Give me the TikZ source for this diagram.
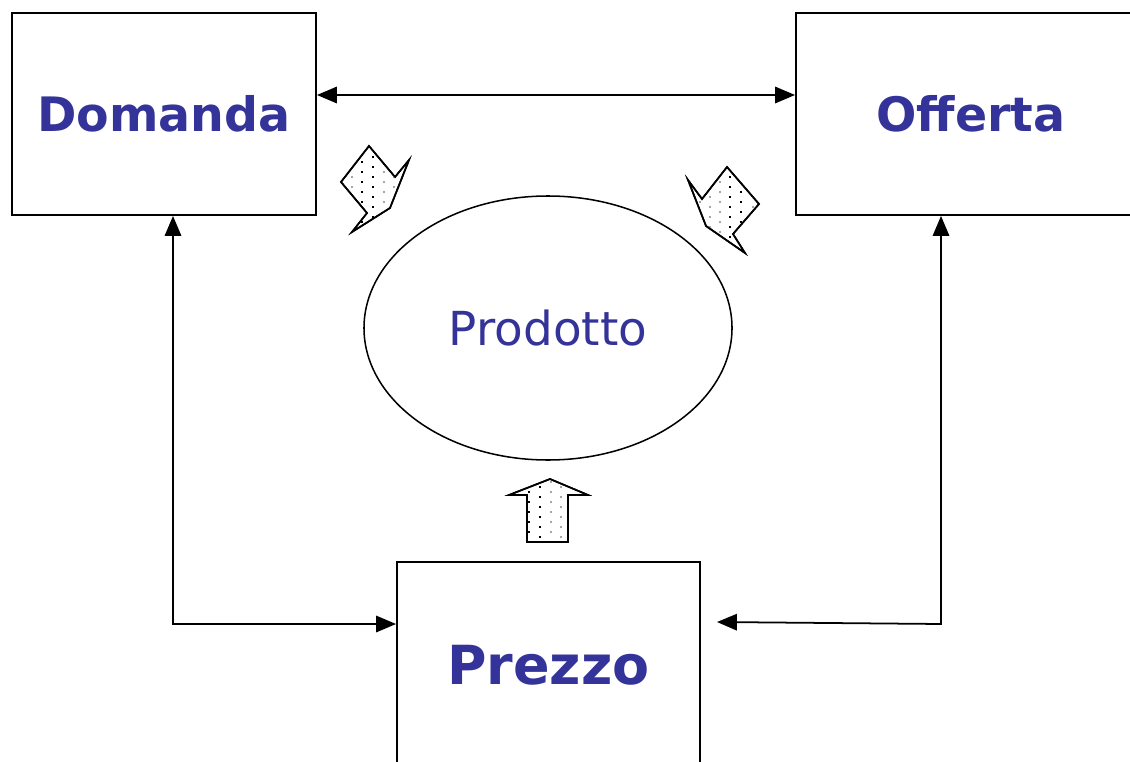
\documentclass[tikz,border=0pt]{standalone}
\usepackage{fontspec}
\setmainfont{DejaVu Sans}
\usetikzlibrary{arrows.meta,shapes.geometric}
\definecolor{txtblue}{RGB}{51,51,153}
\begin{document}
\begin{tikzpicture}[x=0.03cm,y=-0.03cm,
  boxnode/.style={draw,line width=1.6pt,inner sep=0pt,text=txtblue,
    font=\bfseries\fontsize{40.5}{48}\selectfont},
  ellnode/.style={draw,ellipse,line width=1.3pt,inner sep=0pt,text=txtblue,
    font=\fontsize{40}{48}\selectfont},
  conn/.style={line width=1.5pt,
    {Triangle[length=17pt,width=14pt]}-{Triangle[length=17pt,width=14pt]}},
  blockarrow/.style={line width=1.4pt,fill=white,line join=miter}]
\useasboundingbox (0,0) rectangle (1130,761);
\clip (0,0) rectangle (1130,761);

% boxes
\node[boxnode,minimum width=9.12cm,minimum height=6.06cm] (dom) at (164,114) {Domanda};
\node[boxnode,minimum width=10.5cm,minimum height=6.06cm] (off) at (971,114) {Offerta};
\node[boxnode,minimum width=9.09cm,minimum height=6.18cm,
      font=\bfseries\fontsize{46}{52}\selectfont] (pre) at (548.5,665) {Prezzo};
\node[ellnode,minimum width=11.04cm,minimum height=7.92cm] (prod) at (548,328) {Prodotto};

% connectors
\coordinate (y95) at (0,95);
\coordinate (c1) at (173,624);
\coordinate (c2) at (941,624);
\coordinate (e2) at (717,622);
\draw[conn] (dom.east |- y95) -- (off.west |- y95);
\draw[conn] (c1 |- dom.south) -- (c1) -- (c1 -| pre.west);
\draw[conn] (c2 |- off.south) -- (c2) -- (e2);

% block arrow 1 (near Domanda)
\draw[blockarrow] (369,146) -- (341,182) -- (367,213) -- (352,232) -- (390,208)
   -- (409,160) -- (395,177) -- cycle;
\begin{scope}
  \clip (369,146) -- (341,182) -- (367,213) -- (352,232) -- (390,208)
   -- (409,160) -- (395,177) -- cycle;
  \foreach \x/\c/\o in {352/gray!70/5,362/black/0,373/black/5,384/gray!70/0,394/gray!70/5}
    \foreach \y in {142,152,...,232}
      \fill[\c] (\x,\y+\o) ++(-1.25pt,-1.25pt) rectangle ++(2.5pt,2.5pt);
\end{scope}
\draw[blockarrow,fill=none] (369,146) -- (341,182) -- (367,213) -- (352,232) -- (390,208)
   -- (409,160) -- (395,177) -- cycle;

% block arrow 2 (near Offerta)
\draw[blockarrow] (727,167) -- (759,204) -- (733,234) -- (745,253) -- (706,226)
   -- (688,180) -- (702,199) -- cycle;
\begin{scope}
  \clip (727,167) -- (759,204) -- (733,234) -- (745,253) -- (706,226)
   -- (688,180) -- (702,199) -- cycle;
  \foreach \x/\c/\o in {700/gray!70/0,710/gray!70/5,720/gray!70/0,730/black/5,741/black/0,753/gray!70/5}
    \foreach \y in {162,172,...,252}
      \fill[\c] (\x,\y+\o) ++(-1.25pt,-1.25pt) rectangle ++(2.5pt,2.5pt);
\end{scope}
\draw[blockarrow,fill=none] (727,167) -- (759,204) -- (733,234) -- (745,253) -- (706,226)
   -- (688,180) -- (702,199) -- cycle;

% block arrow 3 (above Prezzo)
\draw[blockarrow] (550,479) -- (588,495) -- (568,495) -- (568,542) -- (527,542)
   -- (527,495) -- (509,495) -- cycle;
\begin{scope}
  \clip (550,479) -- (588,495) -- (568,495) -- (568,542) -- (527,542)
   -- (527,495) -- (509,495) -- cycle;
  \foreach \x/\c/\o in {529/black/5,540/black/0,551/gray!70/5,561/gray!70/0}
    \foreach \y in {477,487,...,547}
      \fill[\c] (\x,\y+\o) ++(-1.25pt,-1.25pt) rectangle ++(2.5pt,2.5pt);
\end{scope}
\draw[blockarrow,fill=none] (550,479) -- (588,495) -- (568,495) -- (568,542) -- (527,542)
   -- (527,495) -- (509,495) -- cycle;
\end{tikzpicture}
\end{document}
